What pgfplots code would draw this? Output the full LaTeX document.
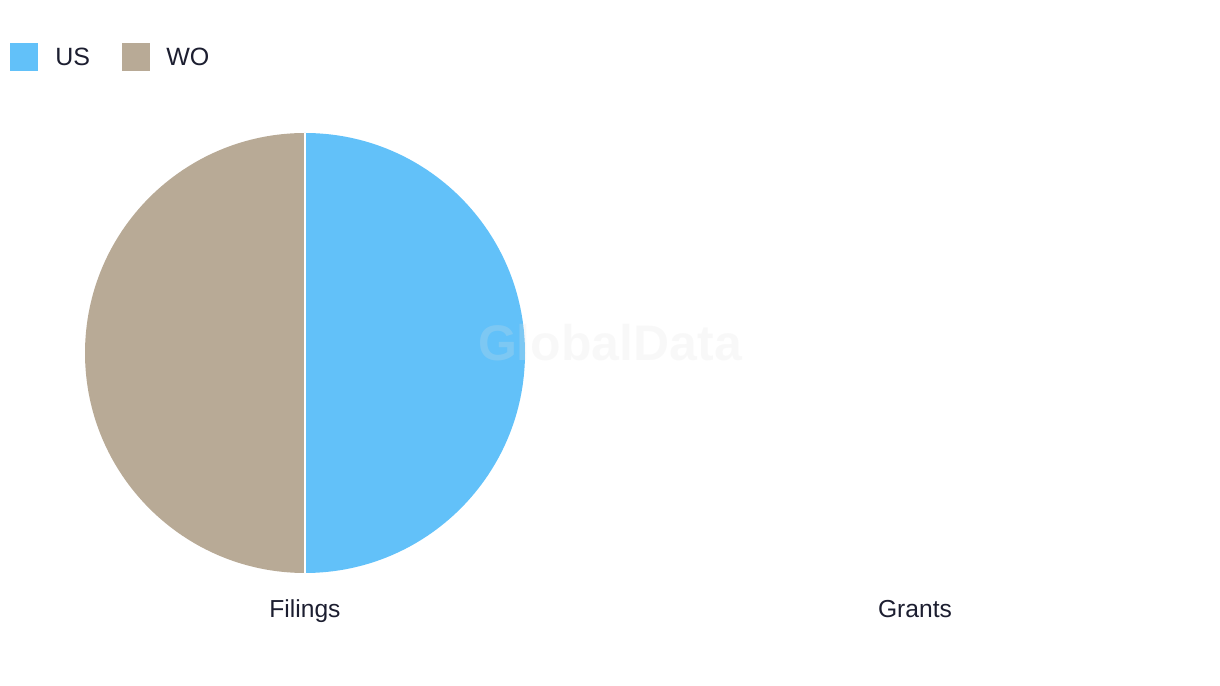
\documentclass[border=0pt]{standalone}
\usepackage{pgfplots}
\pgfplotsset{compat=1.18}
\usepackage{pgfplotstable}
\usepackage{fontspec}
\setmainfont{Liberation Sans}
\definecolor{usblue}{RGB}{98,193,249}
\definecolor{wotan}{RGB}{184,170,150}
\definecolor{txt}{RGB}{28,30,48}
\definecolor{wm}{RGB}{225,225,225}

\pgfplotstableread{
series value
US 1
WO 1
}\filingsdata

\begin{document}
\begin{tikzpicture}
\pgfplotstablegetelem{0}{value}\of\filingsdata \let\vUS\pgfplotsretval
\pgfplotstablegetelem{1}{value}\of\filingsdata \let\vWO\pgfplotsretval
\pgfmathsetmacro\tot{\vUS+\vWO}
\pgfmathsetmacro\aUS{90-360*\vUS/\tot}
\pgfmathsetmacro\aWO{\aUS-360*\vWO/\tot}
\begin{axis}[
  scale only axis, width=610bp, height=343bp,
  xmin=0, xmax=1220, ymin=0, ymax=686,
  hide axis, clip=false,
]
\path (axis cs:0,0) rectangle (axis cs:1220,686);
% pie for Filings
\fill[usblue] (axis cs:305,333) -- ++(90:110bp) arc[start angle=90,end angle=\aUS,radius=110bp] -- cycle;
\fill[wotan] (axis cs:305,333) -- ++(\aUS:110bp) arc[start angle=\aUS,end angle=\aWO,radius=110bp] -- cycle;
\draw[white, line width=0.6bp] (axis cs:305,333) -- ++(90:110bp);
\draw[white, line width=0.6bp] (axis cs:305,333) -- ++(\aUS:110bp);
% watermark
\node[font=\fontsize{25bp}{30bp}\selectfont\bfseries, text=wm, opacity=0.22, text opacity=0.22] at (axis cs:610,343) {GlobalData};
% category labels
\node[font=\fontsize{12.3bp}{14bp}\selectfont, text=txt, anchor=base] at (axis cs:305,68) {Filings};
\node[font=\fontsize{12.3bp}{14bp}\selectfont, text=txt, anchor=base] at (axis cs:915,68) {Grants};
% legend
\fill[usblue] (axis cs:10,615) rectangle (axis cs:38,643);
\node[font=\fontsize{12.5bp}{15bp}\selectfont, text=txt, anchor=base west, inner sep=0pt] at (axis cs:55,620) {US};
\fill[wotan] (axis cs:122,615) rectangle (axis cs:150,643);
\node[font=\fontsize{12.5bp}{15bp}\selectfont, text=txt, anchor=base west, inner sep=0pt] at (axis cs:166,620) {WO};
\end{axis}
\end{tikzpicture}
\end{document}
